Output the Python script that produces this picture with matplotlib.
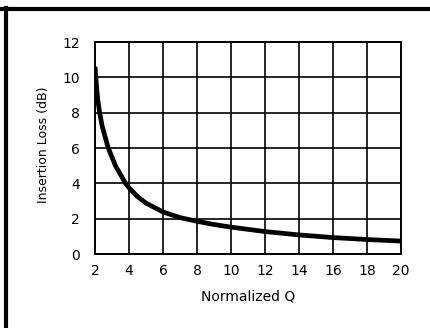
import matplotlib
matplotlib.use("Agg")
import matplotlib.pyplot as plt
from matplotlib.lines import Line2D

# Data
q_values = [2.0, 2.08, 2.16, 2.28, 2.43, 2.78, 3.2, 3.8, 4.0, 4.5, 5.0, 6.0, 7.0,
            8.0, 9.0, 10.0, 12.0, 14.0, 16.0, 18.0, 20.0]
loss_db = [10.6, 9.6, 8.75, 7.95, 7.2, 6.0, 5.0, 4.0, 3.75, 3.25, 2.88, 2.38, 2.06,
           1.85, 1.67, 1.52, 1.27, 1.08, 0.93, 0.82, 0.73]
x_ticks = [2, 4, 6, 8, 10, 12, 14, 16, 18, 20]
y_ticks = [0, 2, 4, 6, 8, 10, 12]
x_label = "Normalized Q"
y_label = "Insertion Loss (dB)"

plt.rcParams['font.family'] = ['DejaVu Sans']

fig = plt.figure(figsize=(4.30, 3.28), dpi=100)
ax = fig.add_axes([95/430, (328-254)/328, (401-95)/430, (254-42)/328])

ax.plot(q_values, loss_db, color='black', lw=3.4, solid_capstyle='butt',
        solid_joinstyle='round', zorder=3)

ax.set_xlim(2, 20)
ax.set_ylim(0, 12)
ax.set_xticks(x_ticks)
ax.set_yticks(y_ticks)
ax.grid(True, color='black', lw=1.2)
ax.tick_params(length=0, labelsize=10)
ax.tick_params(axis='y', pad=11)
ax.tick_params(axis='x', pad=7)
for s in ax.spines.values():
    s.set_linewidth(1.4)

fig.text(248/430, 1 - 297/328, x_label, ha='center', va='center', fontsize=10)
fig.text(43/430, 1 - 145/328, y_label, ha='center', va='center', rotation=90, fontsize=9)

# frame lines (top and left)
fig.add_artist(Line2D([0, 1], [1 - 9/328, 1 - 9/328], transform=fig.transFigure,
                      color='black', lw=3))
fig.add_artist(Line2D([6/430, 6/430], [0, 1 - 8/328], transform=fig.transFigure,
                      color='black', lw=3))

fig.savefig("out.png", dpi=100)
